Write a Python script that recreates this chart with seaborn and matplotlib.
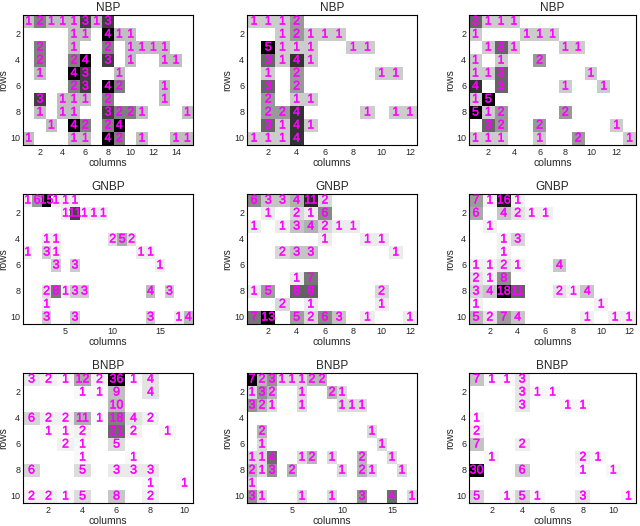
import numpy as np
import matplotlib
matplotlib.use("Agg")
import matplotlib.pyplot as plt
import matplotlib.patheffects as pe
import seaborn as sns

sns.set_style("white")
plt.rcParams['font.family'] = ['Liberation Sans', 'DejaVu Sans']

# ---- data: each panel is a dict row -> {col: count}; rows 1..10 ----
titles = ["NBP", "NBP", "NBP", "GNBP", "GNBP", "GNBP", "BNBP", "BNBP", "BNBP"]
ncols = [15, 12, 13, 18, 12, 12, 10, 17, 11]
xticks = [[2, 4, 6, 8, 10, 12, 14], [2, 4, 6, 8, 10, 12], [2, 4, 6, 8, 10, 12],
          [5, 10, 15], [2, 4, 6, 8, 10, 12], [2, 4, 6, 8, 10, 12],
          [2, 4, 6, 8, 10], [5, 10, 15], [2, 4, 6, 8, 10]]
yticks = [2, 4, 6, 8, 10]

p1_rows = {
    1: {1: 1, 2: 2, 3: 1, 4: 1, 5: 1, 6: 3, 7: 1, 8: 3},
    2: {5: 1, 6: 1, 8: 4, 9: 1, 10: 1},
    3: {2: 2, 5: 1, 8: 2, 10: 1, 11: 1, 12: 1, 13: 1},
    4: {2: 2, 5: 2, 6: 4, 8: 3, 10: 1, 13: 1, 14: 1},
    5: {2: 1, 5: 4, 6: 3, 9: 1},
    6: {5: 2, 6: 3, 8: 4, 9: 2, 13: 1},
    7: {2: 3, 4: 1, 5: 1, 6: 1, 8: 2, 13: 1},
    8: {2: 1, 4: 1, 5: 1, 8: 3, 9: 2, 10: 2, 11: 1, 15: 1},
    9: {3: 1, 5: 4, 6: 2, 8: 2, 9: 4},
    10: {1: 1, 5: 1, 6: 1, 8: 4, 9: 2, 11: 1, 14: 1, 15: 1},
}
p2_rows = {
    1: {1: 1, 2: 1, 3: 1, 4: 2},
    2: {3: 1, 4: 2, 5: 1, 6: 1, 7: 1},
    3: {2: 5, 3: 1, 4: 1, 5: 1, 8: 1, 9: 1},
    4: {2: 3, 3: 1, 4: 4, 5: 1},
    5: {2: 1, 4: 2, 10: 1, 11: 1},
    6: {2: 3, 4: 2},
    7: {2: 2, 4: 1, 5: 1},
    8: {2: 2, 3: 2, 4: 4, 9: 1, 11: 1, 12: 1},
    9: {2: 3, 3: 1, 4: 4, 5: 1},
    10: {1: 1, 2: 1, 3: 1, 4: 4},
}
p3_rows = {
    1: {1: 3, 2: 1, 3: 1, 4: 1},
    2: {1: 1, 5: 1, 6: 1, 7: 1},
    3: {2: 1, 3: 3, 4: 1, 8: 1, 9: 1},
    4: {1: 1, 3: 1, 6: 2},
    5: {1: 1, 2: 1, 3: 3, 10: 1},
    6: {1: 4, 3: 3, 8: 1, 11: 1},
    7: {1: 1, 2: 5},
    8: {1: 5, 2: 1, 3: 2, 8: 2},
    9: {2: 3, 3: 2, 6: 2, 12: 1},
    10: {1: 1, 2: 1, 3: 1, 6: 1, 9: 2, 13: 1},
}
p4_rows = {
    1: {1: 1, 2: 6, 3: 15, 4: 1, 5: 1, 6: 1},
    2: {5: 1, 6: 11, 7: 1, 8: 1, 9: 1},
    3: {},
    4: {3: 1, 4: 1, 10: 2, 11: 5, 12: 2},
    5: {1: 1, 3: 3, 4: 1, 13: 1, 14: 1},
    6: {4: 3, 6: 3, 15: 1},
    7: {},
    8: {3: 2, 4: 8, 5: 1, 6: 3, 7: 3, 14: 4, 16: 3},
    9: {3: 1},
    10: {3: 3, 6: 3, 14: 3, 17: 1, 18: 4},
}
p5_rows = {
    1: {1: 6, 2: 3, 3: 3, 4: 4, 5: 11, 6: 2},
    2: {2: 1, 4: 2, 5: 1, 6: 6},
    3: {1: 1, 3: 1, 4: 3, 5: 4, 6: 2, 7: 1, 8: 1},
    4: {6: 1, 9: 1, 10: 1},
    5: {3: 2, 4: 3, 5: 3, 11: 1},
    6: {},
    7: {4: 1, 5: 7},
    8: {1: 1, 2: 5, 4: 8, 5: 8, 10: 2},
    9: {3: 2, 5: 1, 10: 1},
    10: {1: 7, 2: 13, 4: 5, 5: 2, 6: 6, 7: 3, 9: 1, 12: 1},
}
p6_rows = {
    1: {1: 7, 2: 1, 3: 16, 4: 1},
    2: {1: 6, 3: 4, 4: 2, 5: 1, 6: 1},
    3: {2: 1},
    4: {3: 1, 4: 3},
    5: {3: 1},
    6: {1: 1, 2: 1, 3: 2, 4: 1, 7: 4},
    7: {1: 2, 2: 1, 3: 8},
    8: {1: 3, 2: 4, 3: 18, 4: 11, 7: 2, 8: 1, 9: 4},
    9: {1: 1, 10: 1},
    10: {1: 5, 2: 2, 3: 7, 4: 4, 9: 1, 11: 1, 12: 1},
}
p7_rows = {
    1: {1: 3, 2: 2, 3: 1, 4: 12, 5: 2, 6: 36, 7: 1, 8: 4},
    2: {4: 1, 5: 1, 6: 9, 8: 4},
    3: {6: 10},
    4: {1: 6, 2: 2, 3: 2, 4: 11, 5: 1, 6: 18, 7: 4, 8: 2},
    5: {2: 1, 3: 1, 4: 2, 6: 21, 7: 2, 9: 1},
    6: {3: 2, 4: 1, 6: 5},
    7: {4: 1, 7: 1},
    8: {1: 6, 4: 5, 6: 3, 7: 3, 8: 3},
    9: {8: 1, 10: 1},
    10: {1: 2, 2: 2, 3: 1, 4: 5, 6: 8, 8: 2},
}
p8_rows = {
    1: {1: 7, 2: 2, 3: 3, 4: 1, 5: 1, 6: 1, 7: 2, 8: 2},
    2: {1: 1, 2: 3, 3: 2, 6: 1, 9: 2, 10: 1},
    3: {1: 3, 2: 2, 3: 1, 6: 1, 10: 1, 11: 1, 12: 1},
    4: {},
    5: {2: 2, 13: 1},
    6: {2: 1, 14: 1},
    7: {1: 1, 2: 1, 3: 4, 6: 1, 7: 2, 9: 1, 12: 2, 15: 1},
    8: {1: 2, 2: 1, 3: 3, 5: 2, 10: 1, 12: 2, 13: 1, 16: 1},
    9: {1: 1},
    10: {1: 3, 2: 1, 6: 1, 9: 1, 12: 3, 15: 4, 17: 1},
}
p9_rows = {
    1: {1: 7, 2: 1, 3: 1, 4: 3},
    2: {4: 3, 5: 1, 6: 1},
    3: {4: 3, 7: 1, 8: 1},
    4: {1: 1},
    5: {1: 2},
    6: {1: 7, 4: 2},
    7: {2: 1, 8: 2, 9: 1},
    8: {1: 30, 4: 6, 8: 1, 10: 1},
    9: {},
    10: {1: 5, 3: 1, 4: 5, 5: 1, 8: 3, 11: 1},
}
panels = [p1_rows, p2_rows, p3_rows, p4_rows, p5_rows, p6_rows, p7_rows, p8_rows, p9_rows]

# ---- layout (pixels) ----
W, H = 640, 526
lefts = [23, 247, 469]
widths = [170, 170, 167]
tops = [15, 194, 373]
ph = 130

fig = plt.figure(figsize=(W / 100, H / 100), dpi=100)

for k, (rows, nc) in enumerate(zip(panels, ncols)):
    r, c = divmod(k, 3)
    ax = fig.add_axes([lefts[c] / W, (H - tops[r] - ph) / H, widths[c] / W, ph / H])
    mat = np.zeros((10, nc))
    for ri, d in rows.items():
        for ci, v in d.items():
            mat[ri - 1, ci - 1] = v
    labels = np.where(mat > 0, mat.astype(int).astype(str), "")
    sns.heatmap(mat, ax=ax, cmap="gray_r", vmin=0, vmax=mat.max(), cbar=False,
                annot=labels, fmt="",
                annot_kws=dict(color="#ff00ff", fontsize=9,
                               path_effects=[pe.withStroke(linewidth=0.25, foreground="#ff00ff")]))
    for s in ax.spines.values():
        s.set_visible(True)
        s.set_color("black")
        s.set_linewidth(0.8)
    ax.set_xticks([t - 0.5 for t in xticks[k]])
    ax.set_xticklabels([str(t) for t in xticks[k]], rotation=0, fontsize=6.5)
    ax.set_yticks([t - 0.5 for t in yticks])
    ax.set_yticklabels([str(t) for t in yticks], rotation=0, fontsize=6.5)
    ax.tick_params(direction="in", length=2.5, width=0.6, top=True, right=True,
                   bottom=True, left=True, pad=2)
    ax.set_title(titles[k], fontsize=8.5, pad=3)
    ax.set_xlabel("columns", fontsize=7.5, labelpad=1)
    ax.set_ylabel("rows", fontsize=7.5)
    ax.yaxis.set_label_coords(-0.085, 0.5)

fig.savefig("out.png", dpi=100)
